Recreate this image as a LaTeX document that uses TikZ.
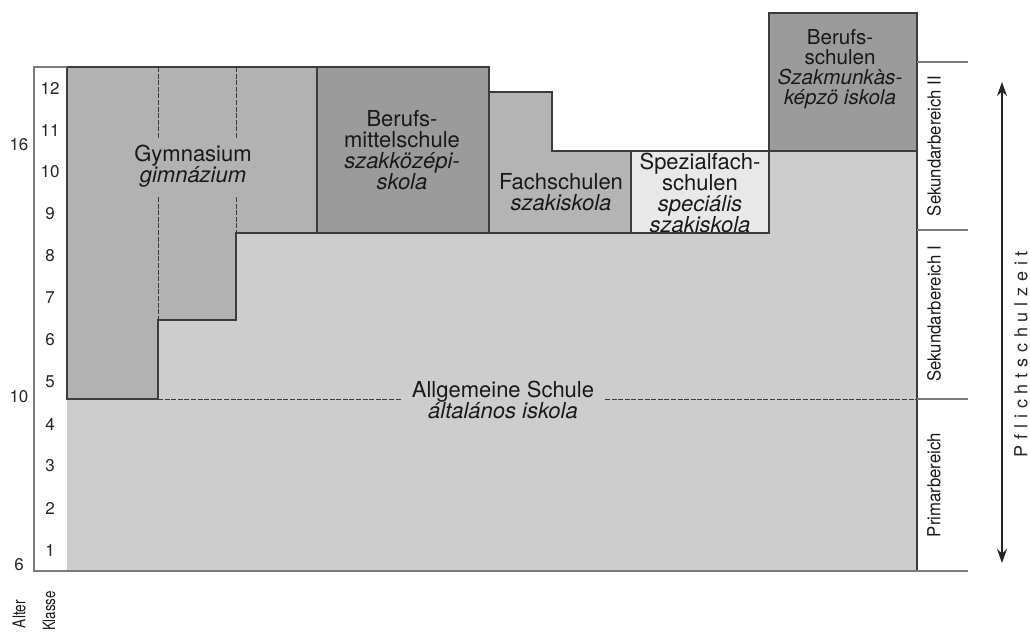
\documentclass[tikz,border=0pt]{standalone}
\usepackage{fontspec}
\setmainfont{TeX Gyre Heros}
\usepackage{tikz}
\usetikzlibrary{arrows.meta,calc}
\definecolor{bgGray}{HTML}{CDCDCD}
\definecolor{gymGray}{HTML}{B2B2B2}
\definecolor{darkGray}{HTML}{9B9B9B}
\definecolor{fachGray}{HTML}{B4B4B4}
\definecolor{spezGray}{HTML}{E8E8E8}
\definecolor{lineGray}{HTML}{3C3C3C}
\definecolor{ruleGray}{HTML}{7A7A7A}
\newcommand{\sperr}{\kern2.9pt}

\begin{document}
\begin{tikzpicture}[x=0.5pt,y=-0.5pt,
  schulbox/.style={draw=lineGray,line width=0.7pt},
  schultext/.style={align=center,text=black!90,inner sep=0pt,font=\fontsize{11}{10.6}\selectfont},
  zahl/.style={text=black!85,inner sep=0pt,font=\fontsize{8.5}{9}\selectfont},
  bereich/.style={rotate=90,text=black!90,inner sep=0pt,font=\fontsize{9}{10}\selectfont},
  regel/.style={draw=ruleGray,line width=0.6pt},
  strich/.style={draw=lineGray,line width=0.5pt,dash pattern=on 2.5pt off 0.8pt}]
\useasboundingbox (0,0) rectangle (1030,634);

% Grundflaeche
\fill[bgGray] (67,151) rectangle (917,571);
% Gymnasium
\filldraw[schulbox,fill=gymGray] (67,67) -- (317,67) -- (317,233) -- (236,233) -- (236,320)
  -- (158,320) -- (158,399) -- (67,399) -- cycle;
\draw[strich] (158,67) -- (158,138) (158,197) -- (158,320);
\draw[strich] (236,67) -- (236,138) (236,197) -- (236,233);
% Berufsmittelschule, Fachschulen, Spezialfachschulen, Berufsschulen
\filldraw[schulbox,fill=darkGray] (317,67) rectangle (489,233);
\filldraw[schulbox,fill=fachGray] (489,92) -- (552,92) -- (552,151) -- (631,151) -- (631,233)
  -- (489,233) -- cycle;
\filldraw[schulbox,fill=spezGray] (631,151) rectangle (769,233);
\filldraw[schulbox,fill=darkGray] (769,13) rectangle (917,151);
\draw[schulbox] (917,151) -- (917,571);

% Achsen
\draw[regel] (67,67) -- (34,67) -- (34,571) -- (968,571);
\draw[regel] (917,62) -- (968,62);
\draw[regel] (917,230) -- (968,230);
\draw[regel] (917,399) -- (968,399);

% Schulen
\node[schultext] (gym) at (193,166) {Gymnasium\\\textit{gimnázium}};
\node[schultext] (bms) at (402,150) {Berufs-\\mittelschule\\\textit{szakközépi-}\\\textit{skola}};
\node[schultext] (fach) at (561,192) {Fachschulen\\\textit{szakiskola}};
\node[schultext] (spez) at (700,193) {Spezialfach-\\schulen\\\textit{speciális}\\\textit{szakiskola}};
\node[schultext,font=\fontsize{10.3}{9.9}\selectfont] (beruf) at (840,69)
  {Berufs-\\schulen\\\textit{Szakmunkàs-}\\\textit{képzö iskola}};
\node[schultext,minimum width=101.5pt] (allg) at (503,400) {Allgemeine Schule\\\textit{általános iskola}};
\coordinate (gl) at (158,399);
\coordinate (gr) at (917,399);
\draw[strich] (gl) -- (gl -| allg.west);
\draw[strich] (gr -| allg.east) -- (gr);

% Alter und Klassen
\node[zahl] (a16) at (19,145) {16};
\node[zahl] (a10) at (19,397) {10};
\node[zahl] (a6) at (19,565) {6};
\foreach \k in {1,...,12}
  \node[zahl] (k\k) at (50,{592-42*\k}) {\k};
\node[rotate=90,inner sep=0pt,text=black!90,font=\fontsize{8.8}{10}\selectfont] (alter) at (19,614) {\scalebox{0.78}[1]{Alter}};
\node[rotate=90,inner sep=0pt,text=black!90,font=\fontsize{8.5}{10}\selectfont] (klasse) at (49,611) {\scalebox{0.78}[1]{Klasse}};

% Bereiche
\node[bereich] (sek2) at (934,146) {\scalebox{0.93}[1]{Sekundarbereich II}};
\node[bereich] (sek1) at (934,314) {\scalebox{0.93}[1]{Sekundarbereich I}};
\node[bereich] (prim) at (934,485) {\scalebox{0.93}[1]{Primarbereich}};

% Pflichtschulzeit
\coordinate (ptop) at (1002,82);
\coordinate (pbot) at (1002,563);
\draw[{Stealth[length=7pt,width=5pt]}-{Stealth[length=7pt,width=5pt]},line width=0.7pt,black!85] (ptop) -- (pbot);
\node[rotate=90,inner sep=0pt,text=black!85,font=\fontsize{9}{10}\selectfont] (pflicht) at (1021,354)
  {P\sperr f\sperr l\sperr i\sperr c\sperr h\sperr t\sperr s\sperr c\sperr h\sperr u\sperr l\sperr z\sperr e\sperr i\sperr t};
\end{tikzpicture}
\end{document}
